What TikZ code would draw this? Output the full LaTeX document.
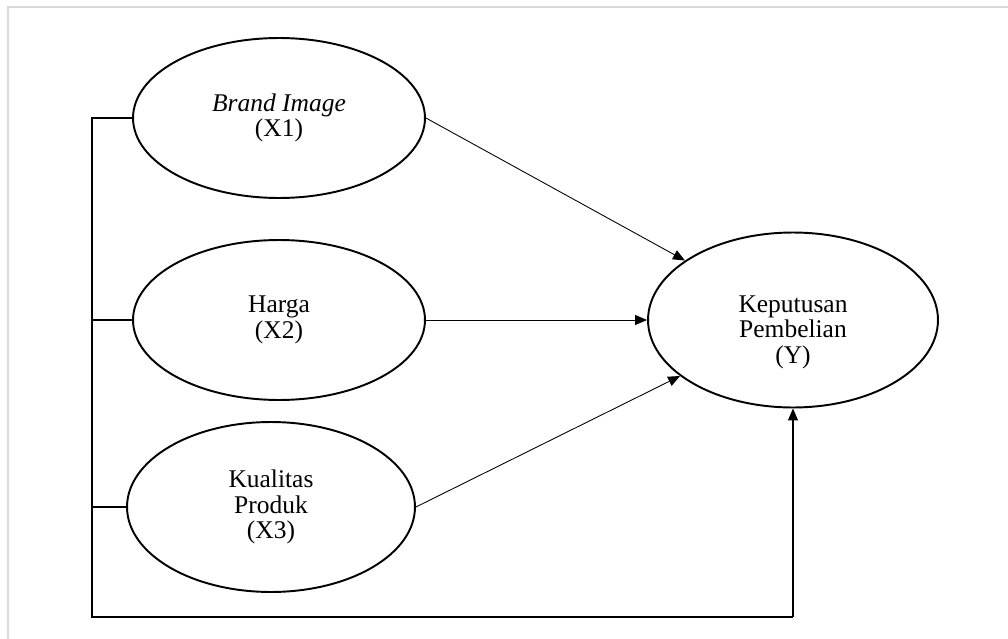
\documentclass[tikz,border=0pt]{standalone}
\usepackage{fontspec}
\setmainfont{Liberation Serif}
\usetikzlibrary{shapes.geometric,arrows.meta}

\begin{document}
\begin{tikzpicture}[x=0.02cm,y=-0.02cm,
        var/.style={ellipse,draw,line width=1.1pt,inner sep=0pt,align=center,
            font=\fontsize{14.5}{14.5}\selectfont},
        arr/.style={-{Triangle[length=0.24cm,width=0.2cm]},line width=0.5pt}]
            \useasboundingbox (0,0) rectangle (1008,639);
            \draw[black!15,line width=1.1pt] (8,639)--(8,7)--(1008,7);

            \node[var,minimum width=5.84cm,minimum height=3.2cm] (x1) at (279,118) {\textit{Brand Image}\\(X1)};
            \node[var,minimum width=5.84cm,minimum height=3.2cm] (x2) at (279,320) {Harga\\(X2)};
            \node[var,minimum width=5.76cm,minimum height=3.4cm] (x3) at (271,507) {Kualitas\\Produk\\(X3)};
            \node[var,minimum width=5.8cm,minimum height=3.5cm] (y) at (793,320) {};
            \node[align=center,font=\fontsize{14.5}{14.5}\selectfont] (ytext) at (793,332) {Keputusan\\Pembelian\\(Y)};

            \coordinate (a) at (92,118);
            \coordinate (b) at (92,320);
            \coordinate (c) at (92,507);
            \coordinate (d) at (92,617);
            \coordinate (e) at (793,617);

            \draw[line width=0.6pt] (x1.west)--(a)--(d)--(e);
            \draw[line width=0.6pt] (b)--(x2.west);
            \draw[line width=0.6pt] (c)--(x3.west);

            \draw[arr] (x1.east)--(y);
            \draw[arr] (x2.east)--(y.west);
            \draw[arr] (x3.east)--(y);
            \draw[arr,line width=0.6pt] (e)--(y.south);
        \end{tikzpicture}
\end{document}
